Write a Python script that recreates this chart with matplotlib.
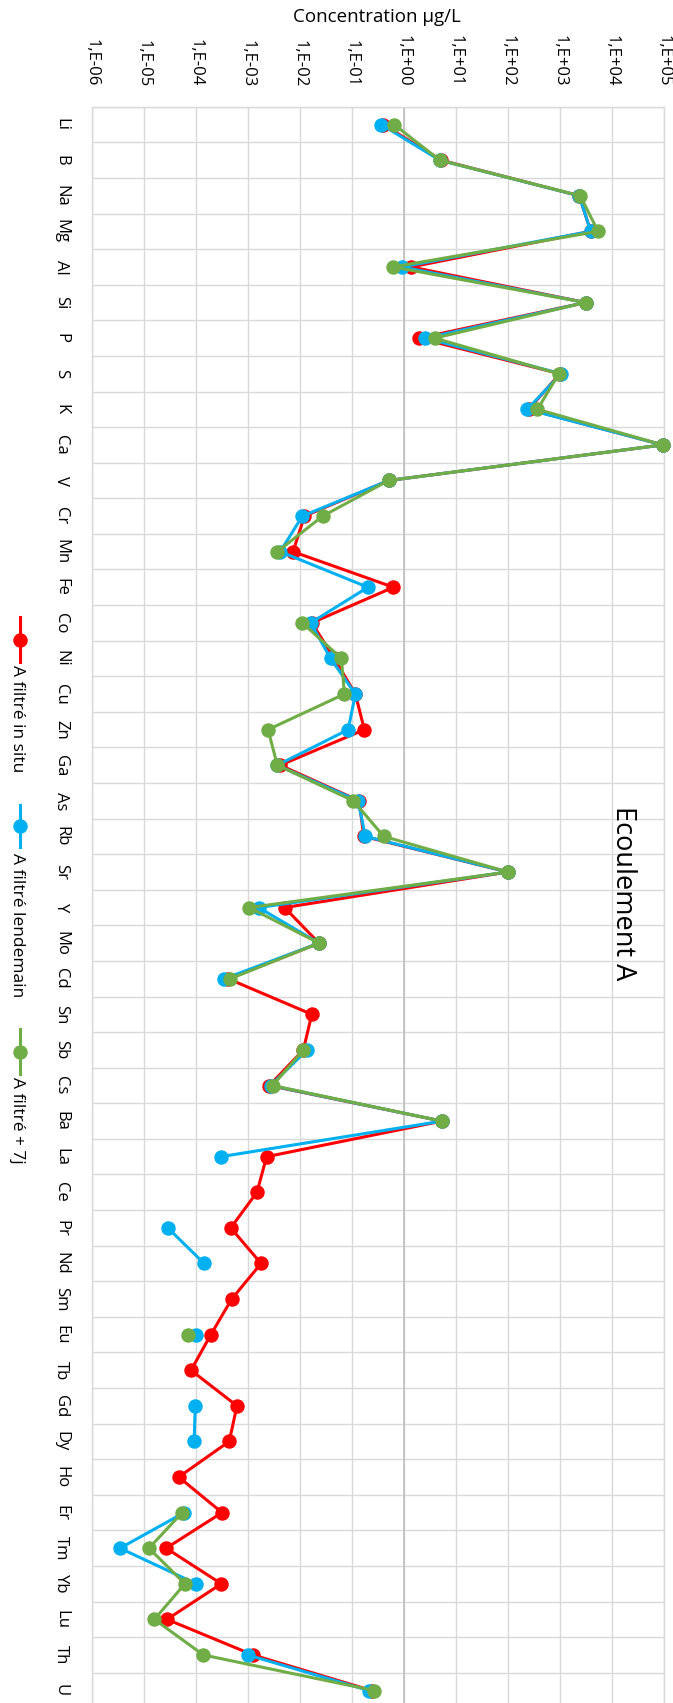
import numpy as np
import matplotlib
matplotlib.use("Agg")
import matplotlib.pyplot as plt
from matplotlib.lines import Line2D
from matplotlib.ticker import NullLocator, FixedLocator

plt.rcParams['font.family'] = ['Open Sans', 'DejaVu Sans']

nan = np.nan

elements = ["Li", "B", "Na", "Mg", "Al", "Si", "P", "S", "K", "Ca", "V", "Cr", "Mn", "Fe",
            "Co", "Ni", "Cu", "Zn", "Ga", "As", "Rb", "Sr", "Y", "Mo", "Cd", "Sn", "Sb",
            "Cs", "Ba", "La", "Ce", "Pr", "Nd", "Sm", "Eu", "Tb", "Gd", "Dy", "Ho", "Er",
            "Tm", "Yb", "Lu", "Th", "U"]

# Concentrations in µg/L
in_situ = [0.40, 5.2, 2350, 3900, 1.38, 3100, 1.95, 1000, 250, 95000, 0.51, 0.0123, 0.0074, 0.63,
           0.017, 0.046, 0.117, 0.174, 0.0042, 0.138, 0.17, 100, 0.0051, 0.0234, 0.00042, 0.017, 0.0117,
           0.0026, 5.4, 0.0023, 0.0015, 0.00047, 0.0018, 0.00049, 0.000195, 8.1e-5, 0.00062, 0.00044,
           4.7e-5, 0.00032, 2.7e-5, 0.00031, 2.8e-5, 0.00126, 0.24]

lendemain = [0.37, 4.9, 2350, 3900, 0.91, 3100, 2.6, 1050, 235, 95000, 0.51, 0.0112, 0.0042, 0.204,
             0.0162, 0.039, 0.117, 0.085, 0.0037, 0.132, 0.182, 100, 0.00162, 0.0234, 0.000355, nan, 0.0138,
             0.00275, 5.4, 0.0003, nan, 2.9e-5, 0.000145, nan, 0.0001, nan, 9.8e-5, 9.3e-5,
             nan, 6.0e-5, 3.5e-6, 0.000102, nan, 0.001, 0.214]

plus_7j = [0.65, 4.9, 2450, 5400, 0.62, 3100, 3.9, 950, 370, 95000, 0.51, 0.0275, 0.0037, nan,
           0.0112, 0.063, 0.072, 0.00245, 0.0037, 0.107, 0.41, 100, 0.00107, 0.0234, 0.00046, nan, 0.0117,
           0.003, 5.4, nan, nan, nan, nan, nan, 7.2e-5, nan, nan, nan,
           nan, 5.5e-5, 1.26e-5, 6.2e-5, 1.6e-5, 0.00014, 0.27]

series_names = ["A filtré in situ", "A filtré lendemain", "A filtré + 7j"]
series_colors = ["#FF0000", "#00B0F0", "#70AD47"]
decades = list(range(-6, 6))
tick_labels = [f"1,E{k:+03d}" for k in decades]

W, H = 673, 1703
fig = plt.figure(figsize=(W / 100, H / 100), dpi=100)
left_px, right_px, top_px, row_px = 91.7, 664.0, 106.8, 35.59
n = len(elements)
ax = fig.add_axes([left_px / W, 1 - (top_px + n * row_px) / H,
                   (right_px - left_px) / W, n * row_px / H])

ax.set_xscale('log')
ax.set_xlim(1e-6, 1e5)
ax.set_ylim(n - 0.5, -0.5)

y = np.arange(n)
for vals, col, z in zip([in_situ, lendemain, plus_7j], series_colors, [3, 4, 5]):
    ax.plot(np.array(vals, dtype=float), y, '-o', color=col, lw=2.2, ms=9.4,
            solid_joinstyle='round', zorder=z, clip_on=False)

ax.xaxis.tick_top()
ax.xaxis.set_major_locator(FixedLocator([10.0 ** k for k in decades]))
ax.xaxis.set_minor_locator(NullLocator())
ax.set_xticklabels(tick_labels, rotation=270, rotation_mode='anchor', ha='right', va='center',
                   fontsize=12)
ax.tick_params(axis='x', which='both', length=0, pad=14.4, colors='#000000')

ax.set_yticks(y)
ax.set_yticklabels(elements, rotation=270, rotation_mode='anchor', ha='center', va='baseline',
                   fontsize=12)
ax.yaxis.set_minor_locator(FixedLocator(np.arange(-0.5, n, 1.0)))
ax.tick_params(axis='y', which='both', length=0, pad=25)

ax.grid(axis='x', which='major', color='#D9D9D9', lw=1.0, zorder=0)
ax.grid(axis='y', which='minor', color='#D9D9D9', lw=1.0, zorder=0)
ax.grid(axis='y', which='major', visible=False)
ax.axvline(1.0, color='#BFBFBF', lw=1.2, zorder=1)
for s in ax.spines.values():
    s.set_color('#D9D9D9')
    s.set_linewidth(1.0)
ax.set_axisbelow(True)

fig.text(377 / W, 1 - 17.5 / H, "Concentration µg/L", ha='center', va='center', fontsize=13.5)
fig.text(623 / W, 1 - 893 / H, "Ecoulement A", rotation=270, ha='center', va='center',
         fontsize=19.5)

# legend (vertical entries)
leg = [(617, 662, 665), (805, 847, 853), (1029, 1074, 1077)]
for (y0, y1, ty), name, col in zip(leg, series_names, series_colors):
    fig.add_artist(Line2D([20 / W, 20 / W], [1 - y0 / H, 1 - y1 / H], transform=fig.transFigure,
                          color=col, lw=2.2))
    fig.add_artist(Line2D([20 / W], [1 - (y0 + y1) / 2 / H], transform=fig.transFigure,
                          color=col, marker='o', ms=9.4, lw=0))
    fig.text(13 / W, 1 - ty / H, name, rotation=270, rotation_mode='anchor', ha='left',
             va='baseline', fontsize=12.5)

fig.savefig("out.png", dpi=100)
